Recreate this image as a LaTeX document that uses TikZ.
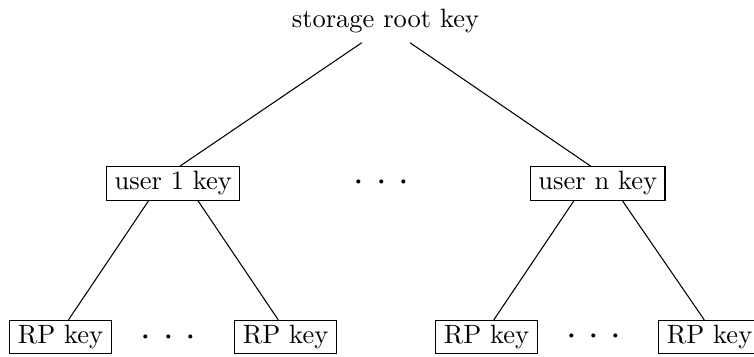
\documentclass[tikz,border=0pt]{standalone}
\usepackage{tikz}

\begin{document}
\begin{tikzpicture}[keybox/.style={draw, inner xsep=3pt, inner ysep=1.8pt},
    dotrow/.style={font=\Large}]
    \useasboundingbox (0, 0) rectangle (10, -4.7215);
    %Nodes
    \node[] at (5.112, -0.284) (root) {storage root key};
    \node[keybox] at (2.298, -2.432) (user1) {user 1 key};
    \node[keybox] at (7.927, -2.432) (usern) {user n key};
    \node[dotrow] at (5.060, -2.427) (dotsmid) {${\cdot}\hspace{4.4pt}{\cdot}\hspace{4.4pt}{\cdot}$};
    \node[keybox] at (0.802, -4.470) (rp1) {RP key};
    \node[keybox] at (3.787, -4.470) (rp2) {RP key};
    \node[keybox] at (6.452, -4.470) (rp3) {RP key};
    \node[keybox] at (9.410, -4.470) (rp4) {RP key};
    \node[dotrow] at (2.235, -4.480) (dotsleft) {${\cdot}\hspace{4.4pt}{\cdot}\hspace{4.4pt}{\cdot}$};
    \node[dotrow] at (7.878, -4.470) (dotsright) {${\cdot}\hspace{4.4pt}{\cdot}\hspace{4.4pt}{\cdot}$};
    
    %Lines
    \draw (root.222) -- (user1.69);
    \draw (root.319) -- (usern.112);
    \draw (user1.215) -- (rp1.65);
    \draw (user1.325) -- (rp2.113);
    \draw (usern.216) -- (rp3.67);
    \draw (usern.325) -- (rp4.107);
    
    \end{tikzpicture}
\end{document}
